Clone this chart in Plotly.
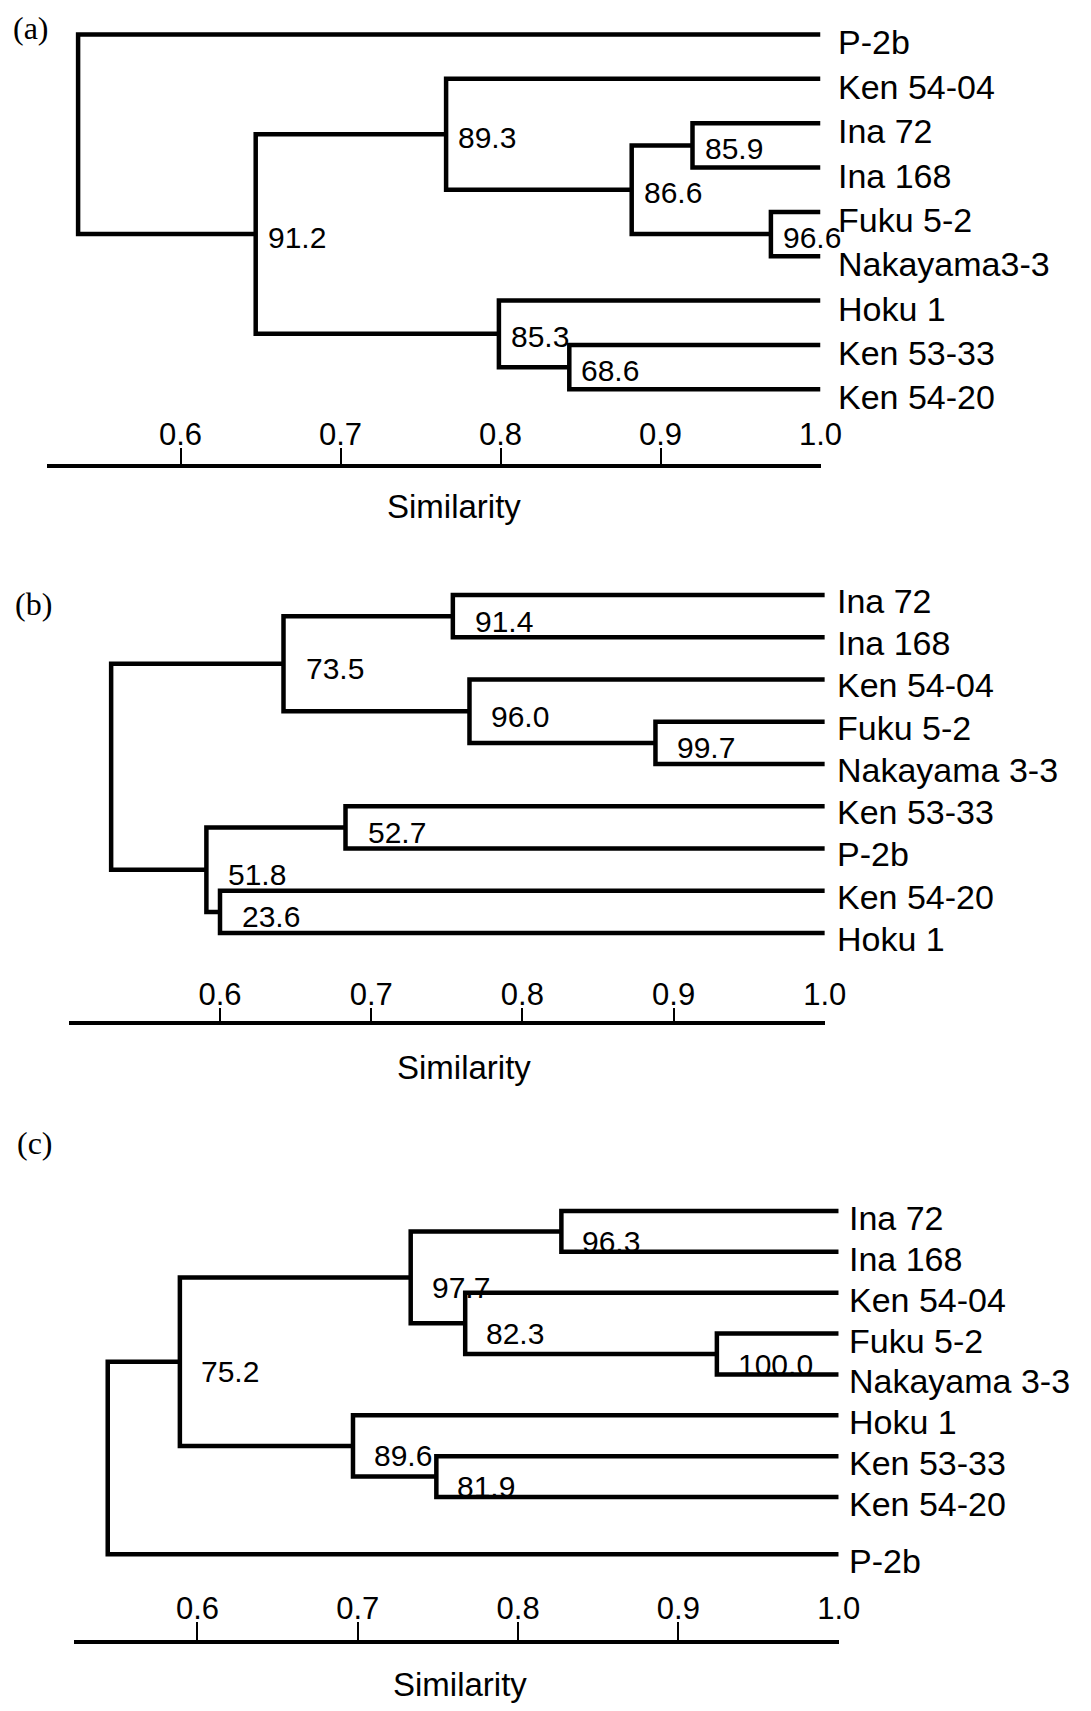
import plotly.graph_objects as go

W, H = 1091, 1711            # browser window
OFF = 8                      # default page (body) margin around the figure
WF, HF = W - 2 * OFF, H - 2 * OFF   # figure fits in the window without scrollbars

# ---------------- data ----------------
# panel (a)
a_leaves = ["P-2b", "Ken 54-04", "Ina 72", "Ina 168", "Fuku 5-2", "Nakayama3-3",
            "Hoku 1", "Ken 53-33", "Ken 54-20"]
a_left = ["Fuku 5-2", "Ina 72", "n2", "Ken 54-04", "Ken 53-33", "Hoku 1", "n4", "P-2b"]
a_right = ["Nakayama3-3", "Ina 168", "n1", "n3", "Ken 54-20", "n5", "n6", "n7"]
a_sim = [0.969, 0.920, 0.882, 0.766, 0.843, 0.799, 0.647, 0.536]
a_label = ["96.6", "85.9", "86.6", "89.3", "68.6", "85.3", "91.2", ""]

# panel (b)
b_leaves = ["Ina 72", "Ina 168", "Ken 54-04", "Fuku 5-2", "Nakayama 3-3",
            "Ken 53-33", "P-2b", "Ken 54-20", "Hoku 1"]
b_left = ["Ina 72", "Fuku 5-2", "Ken 54-04", "n1", "Ken 53-33", "Ken 54-20", "n5", "n4"]
b_right = ["Ina 168", "Nakayama 3-3", "n2", "n3", "P-2b", "Hoku 1", "n6", "n7"]
b_sim = [0.754, 0.888, 0.765, 0.642, 0.683, 0.600, 0.591, 0.528]
b_label = ["91.4", "99.7", "96.0", "73.5", "52.7", "23.6", "51.8", ""]

# panel (c)
c_leaves = ["Ina 72", "Ina 168", "Ken 54-04", "Fuku 5-2", "Nakayama 3-3",
            "Hoku 1", "Ken 53-33", "Ken 54-20", "P-2b"]
c_left = ["Ina 72", "Fuku 5-2", "Ken 54-04", "n1", "Ken 53-33", "Hoku 1", "n4", "n7"]
c_right = ["Ina 168", "Nakayama 3-3", "n2", "n3", "Ken 54-20", "n5", "n6", "P-2b"]
c_sim = [0.827, 0.924, 0.767, 0.733, 0.749, 0.697, 0.589, 0.544]
c_label = ["96.3", "100.0", "82.3", "97.7", "81.9", "89.6", "75.2", ""]

tick_vals = [0.6, 0.7, 0.8, 0.9, 1.0]
tick_text = ["0.6", "0.7", "0.8", "0.9", "1.0"]
panel_letters = ["(a)", "(b)", "(c)"]
axis_title = "Similarity"

# ---------------- layout / style (pixel geometry in window coordinates) ----------------
STYLE = [
    dict(x06=180.5, ppu=1600, axis_start=0.5165, row0=34.5, step=44.35, axis_px=464,
         top_px=10, tail_gap=0.0, lab_dx=10, lab_dy=3, leaf_dx=15, leaf_dy=8, ticklen=16,
         letter=(31, 28), title=(454, 507)),
    dict(x06=220.0, ppu=1512, axis_start=0.500, row0=595, step=42.25, axis_px=1021,
         top_px=540, tail_gap=0.0, lab_dx=20, lab_dy=5, leaf_dx=10, leaf_dy=6, ticklen=13,
         letter=(33, 604), title=(464, 1067)),
    dict(x06=197.5, ppu=1603, axis_start=0.523, row0=1211, step=40.86, axis_px=1640,
         top_px=1100, tail_gap=0.4, lab_dx=19, lab_dy=10, leaf_dx=8, leaf_dy=7, ticklen=18,
         letter=(35, 1143), title=(460, 1684)),
]

SANS = "Liberation Sans, Arial, sans-serif"
SERIF = "Liberation Serif, Times New Roman, serif"
LW = 4.5


def fx(p):
    return (p - OFF) / WF


def fy(p):
    return 1 - (p - OFF) / HF


panels = [
    (a_leaves, a_left, a_right, a_sim, a_label),
    (b_leaves, b_left, b_right, b_sim, b_label),
    (c_leaves, c_left, c_right, c_sim, c_label),
]

fig = go.Figure()
annotations = []
layout_axes = {}

for k, ((leaves, left, right, sim, labels), st) in enumerate(zip(panels, STYLE), start=1):
    xa = "x" if k == 1 else f"x{k}"
    ya = "y" if k == 1 else f"y{k}"

    rows = [float(i) for i in range(len(leaves))]
    rows[-1] += st["tail_gap"]
    pos = {name: (1.0, r) for name, r in zip(leaves, rows)}

    xs, ys = [], []
    for i, (l, r, s, lab) in enumerate(zip(left, right, sim, labels), start=1):
        lx, ly = pos[l]
        rx, ry = pos[r]
        xs += [lx, s, s, rx, None]
        ys += [ly, ly, ry, ry, None]
        ymid = (ly + ry) / 2
        pos[f"n{i}"] = (s, ymid)
        if lab:
            annotations.append(dict(
                x=s, y=ymid, xref=xa, yref=ya, text=lab, showarrow=False,
                xanchor="left", yanchor="middle", xshift=st["lab_dx"], yshift=-st["lab_dy"],
                font=dict(family=SANS, size=30, color="black")))

    fig.add_trace(go.Scatter(
        x=xs, y=ys, mode="lines", xaxis=xa, yaxis=ya, cliponaxis=False,
        line=dict(color="black", width=LW), hoverinfo="skip", showlegend=False))

    for name, r in zip(leaves, rows):
        annotations.append(dict(
            x=1.0, y=r, xref=xa, yref=ya, text=name, showarrow=False,
            xanchor="left", yanchor="middle", xshift=st["leaf_dx"], yshift=-st["leaf_dy"],
            font=dict(family=SANS, size=34, color="black")))

    def px(v, st=st):
        return st["x06"] + (v - 0.6) * st["ppu"]

    xdom = [fx(px(st["axis_start"])), fx(px(1.0))]
    ydom = [fy(st["axis_px"]), fy(st["top_px"])]
    yr = [(st["axis_px"] - st["row0"]) / st["step"], (st["top_px"] - st["row0"]) / st["step"]]

    layout_axes["xaxis" if k == 1 else f"xaxis{k}"] = dict(
        domain=xdom, range=[st["axis_start"], 1.0], anchor=ya, automargin=False,
        showline=True, linecolor="black", linewidth=3.5, mirror=False,
        ticks="inside", ticklen=st["ticklen"], tickwidth=2, tickcolor="black",
        tickmode="array", tickvals=tick_vals, ticktext=tick_text,
        ticklabelposition="inside", ticklabeloverflow="allow",
        tickfont=dict(family=SANS, size=31, color="black"),
        showgrid=False, zeroline=False, fixedrange=True)
    layout_axes["yaxis" if k == 1 else f"yaxis{k}"] = dict(
        domain=ydom, range=yr, anchor=xa, visible=False, automargin=False,
        showgrid=False, zeroline=False, fixedrange=True)

    annotations.append(dict(
        x=fx(st["title"][0]), y=fy(st["title"][1]), xref="paper", yref="paper",
        text=axis_title, showarrow=False, xanchor="center", yanchor="middle",
        font=dict(family=SANS, size=33, color="black")))
    annotations.append(dict(
        x=fx(st["letter"][0]), y=fy(st["letter"][1]), xref="paper", yref="paper",
        text=panel_letters[k - 1], showarrow=False, xanchor="center", yanchor="middle",
        font=dict(family=SERIF, size=32, color="black")))

fig.update_layout(
    width=WF, height=HF, autosize=False,
    margin=dict(l=0, r=0, t=0, b=0, pad=0, autoexpand=False),
    paper_bgcolor="white", plot_bgcolor="white", showlegend=False,
    annotations=annotations, **layout_axes)

fig.write_html("out.html")
